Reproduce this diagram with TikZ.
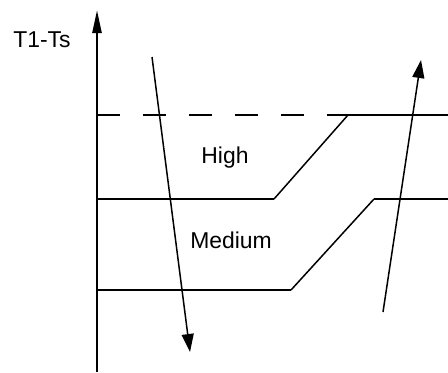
\documentclass[tikz,border=0pt]{standalone}
\usepackage{fontspec}
\setmainfont{Liberation Sans}
\usetikzlibrary{arrows.meta}

\begin{document}
\begin{tikzpicture}[x=1bp, y=-1bp,
   every node/.style={font=\fontsize{23}{25}\selectfont, inner sep=0pt},
   level/.style={line width=2.6bp},
   ramp/.style={line width=1.5bp},
   trend/.style={line width=1.5bp, -{Triangle[length=18bp, width=12bp]}}]
  \useasboundingbox (0,0) rectangle (448,372);

  % axis
  \coordinate (origin) at (97,372);
  \coordinate (top) at (97,10);
  \draw[line width=2.4bp, -{Triangle[length=23bp, width=9bp]}] (origin) -- (top);
  \node (ylabel) at (42,40) {T1-Ts};

  % limits
  \coordinate (hiA) at (97,115);
  \coordinate (hiB) at (348,115);
  \coordinate (hiC) at (448,115);
  \coordinate (mdA) at (97,199);
  \coordinate (mdB) at (274,199);
  \coordinate (mdC) at (374,199);
  \coordinate (mdD) at (448,199);
  \coordinate (loA) at (97,290);
  \coordinate (loB) at (291,290);

  \draw[level, dash pattern=on 23bp off 23bp] (hiA) -- (hiB);
  \draw[level] (hiB) -- (hiC);
  \draw[level] (mdA) -- (mdB);
  \draw[ramp] (mdB) -- (hiB);
  \draw[level] (mdC) -- (mdD);
  \draw[ramp] (loB) -- (mdC);
  \draw[ramp, line width=1.8bp] (loA) -- (loB);

  \node (high) at (225,158) {High};
  \node (medium) at (231,240) {Medium};

  % falling and rising
  \coordinate (dnS) at (152,57);
  \coordinate (dnE) at (190,352);
  \coordinate (upS) at (383,312);
  \coordinate (upE) at (421,60);
  \draw[trend] (dnS) -- (dnE);
  \draw[trend] (upS) -- (upE);
\end{tikzpicture}
\end{document}
